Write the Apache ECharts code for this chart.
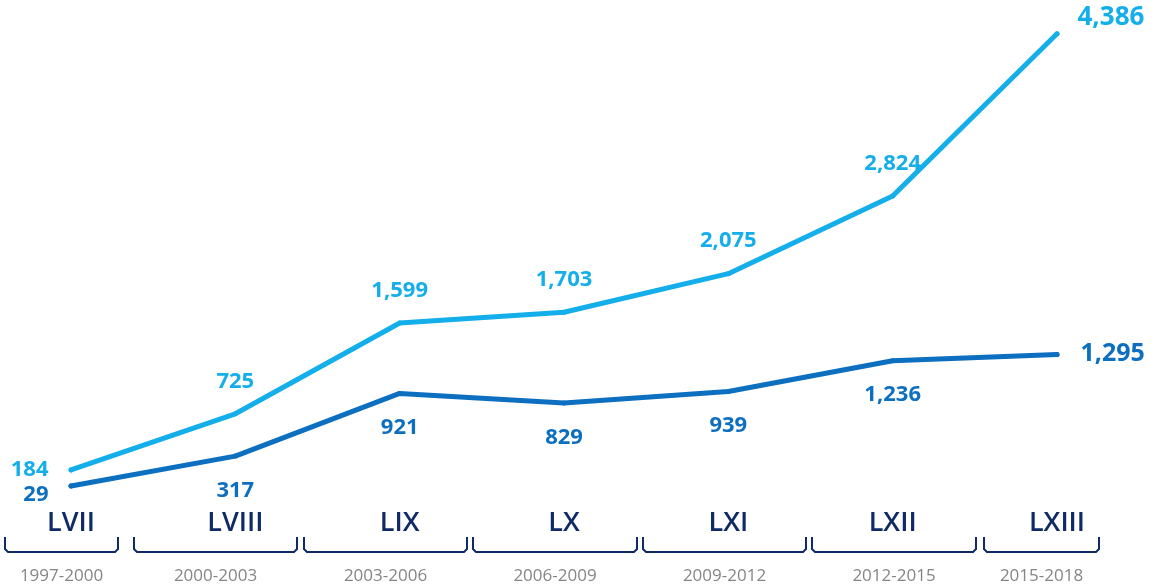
<!DOCTYPE html>
<html>
<head>
<meta charset="utf-8">
<script src="https://cdn.jsdelivr.net/npm/echarts@6/dist/echarts.min.js"></script>
<style>
html, body { margin: 0; padding: 0; background: #fff; }
#chart { width: 1156px; height: 586px; }
</style>
</head>
<body>
<div id="chart"></div>
<script type="text/javascript">
// legislaturas y periodos
var legislaturas = ['LVII', 'LVIII', 'LIX', 'LX', 'LXI', 'LXII', 'LXIII'];
var periodos = ['1997-2000', '2000-2003', '2003-2006', '2006-2009', '2009-2012', '2012-2015', '2015-2018'];
var serieClara = [184, 725, 1599, 1703, 2075, 2824, 4386];
var serieOscura = [29, 317, 921, 829, 939, 1236, 1295];

// llaves bajo cada legislatura (solo decoracion)
var llaves = [[5, 118], [134, 297], [304, 467], [473, 637], [643, 806], [812, 976], [984, 1099]];

var CLARO = '#14AEEA';
var OSCURO = '#0D6FC0';
var NAVY = '#0F2A66';
var FONT = '"Open Sans", sans-serif';

function fmt(v) {
    return v.toLocaleString('en-US');
}

function datosClaros() {
    return serieClara.map(function (v, i) {
        var item = { value: v };
        if (i === 0) {
            item.label = { position: 'left', distance: 20, offset: [0, 0] };
        } else if (i === serieClara.length - 1) {
            item.label = { position: 'right', distance: 18, offset: [0, -16], fontSize: 26 };
        }
        return item;
    });
}

function datosOscuros() {
    return serieOscura.map(function (v, i) {
        var item = { value: v };
        if (i === 0) {
            item.label = { position: 'left', distance: 20, offset: [0, 9] };
        } else if (i === serieOscura.length - 1) {
            item.label = { position: 'right', distance: 21, offset: [0, -1], fontSize: 25 };
        }
        return item;
    });
}

var graficos = [];
llaves.forEach(function (ll, i) {
    var x0 = ll[0], x1 = ll[1];
    graficos.push({
        type: 'polyline',
        shape: { points: [[x0, 537], [x0, 549], [x0 + 3, 552], [x1 - 3, 552], [x1, 549], [x1, 537]] },
        style: { stroke: NAVY, lineWidth: 2, fill: null }
    });
    graficos.push({
        type: 'text',
        x: (x0 + x1) / 2,
        y: 576,
        style: {
            text: periodos[i],
            fill: '#858585',
            font: '17px ' + FONT,
            textAlign: 'center',
            textVerticalAlign: 'middle'
        }
    });
});

var chart = echarts.init(document.getElementById('chart'));
var option = {
    animation: false,
    grid: { left: 71, right: 99, top: 22, bottom: 97 },
    xAxis: {
        type: 'category',
        boundaryGap: false,
        data: legislaturas,
        axisLine: { show: false },
        axisTick: { show: false },
        axisLabel: {
            margin: 21,
            fontSize: 27,
            fontWeight: 600,
            fontFamily: FONT,
            color: NAVY
        }
    },
    yAxis: {
        type: 'value',
        min: 0,
        max: 4500,
        show: false,
        splitLine: { show: false }
    },
    series: [
        {
            name: 'clara',
            type: 'line',
            data: datosClaros(),
            symbol: 'circle',
            symbolSize: 5,
            itemStyle: { color: CLARO },
            lineStyle: { color: CLARO, width: 5, cap: 'round', join: 'round' },
            label: {
                show: true,
                position: 'top',
                distance: 19,
                fontSize: 22,
                fontWeight: 'bold',
                fontFamily: FONT,
                color: CLARO,
                formatter: function (p) { return fmt(p.value); }
            }
        },
        {
            name: 'oscura',
            type: 'line',
            data: datosOscuros(),
            symbol: 'circle',
            symbolSize: 5,
            itemStyle: { color: OSCURO },
            lineStyle: { color: OSCURO, width: 5, cap: 'round', join: 'round' },
            label: {
                show: true,
                position: 'bottom',
                distance: 21,
                fontSize: 22,
                fontWeight: 'bold',
                fontFamily: FONT,
                color: OSCURO,
                formatter: function (p) { return fmt(p.value); }
            }
        }
    ],
    graphic: graficos
};
chart.setOption(option);
</script>
</body>
</html>
